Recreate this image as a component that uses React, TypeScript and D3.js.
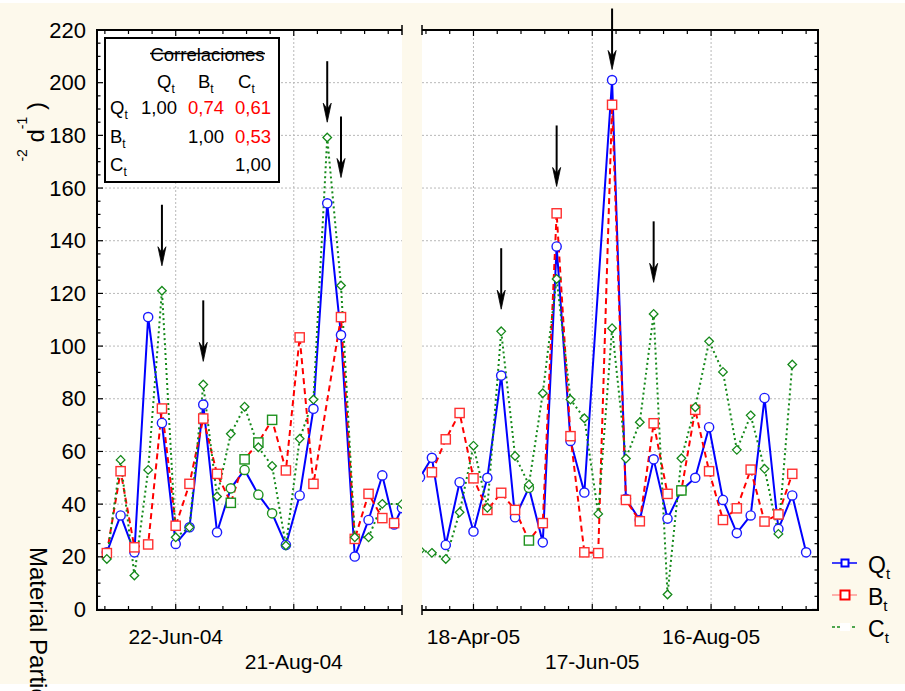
import React from "react";
import * as d3 from "d3";

// ---------------- DATA ----------------
const leftDates = [
  "2004-05-18", "2004-05-25", "2004-06-01", "2004-06-08", "2004-06-15", "2004-06-22",
  "2004-06-29", "2004-07-06", "2004-07-13", "2004-07-20", "2004-07-27", "2004-08-03",
  "2004-08-10", "2004-08-17", "2004-08-24", "2004-08-31", "2004-09-07", "2004-09-14",
  "2004-09-21", "2004-09-28", "2004-10-05", "2004-10-11", "2004-10-15",
];
const leftQ = [21.7, 35.7, 21.7, 111, 70.8, 24.9, 31.2, 77.8, 29.3, 46.0, 53.0, 43.6, 36.5, 24.5, 43.3, 76.2, 154.2, 104.2, 20.1, 34.0, 50.9, 32.3, 38.5];
const leftB = [21.4, 52.5, 23.6, 24.7, 76.3, 31.8, 47.7, 72.5, 51.5, 40.5, 57.0, 63.4, 72.0, 52.8, 103.3, 47.7, null, 111, 26.8, 43.9, 34.7, 32.8, null];
const leftC = [19.2, 56.8, 12.9, 53.0, 121, 27.4, 31.2, 85.4, 42.9, 66.7, 77.0, 61.6, 54.5, 24.3, 64.8, 79.7, 179.2, 123, 27.4, 27.4, 40.1, null, 40];

const rightDates = [
  "2005-03-22", "2005-03-28", "2005-04-04", "2005-04-11", "2005-04-18", "2005-04-25",
  "2005-05-02", "2005-05-09", "2005-05-16", "2005-05-23", "2005-05-30", "2005-06-06",
  "2005-06-13", "2005-06-20", "2005-06-27", "2005-07-04", "2005-07-11", "2005-07-18",
  "2005-07-25", "2005-08-01", "2005-08-08", "2005-08-15", "2005-08-22", "2005-08-29",
  "2005-09-05", "2005-09-12", "2005-09-19", "2005-09-26", "2005-10-03",
];
const rightQ = [50.2, 57.6, 24.5, 48.3, 29.6, 50.0, 88.8, 35.0, 46.2, 25.5, 137.8, 64, 44.4, null, 201, 42, 34, 57.0, 34.5, 45.2, 50.0, 69.2, 41.6, 29.0, 35.7, 80.3, 30.6, 43.3, 21.7];
const rightB = [null, 52.1, 64.6, 74.6, 49.8, 37.8, 44.3, 37.8, 26.2, 32.8, 150.4, 65.8, 21.7, 21.4, 191.6, 41.6, 33.5, 70.7, 43.9, 45.2, 75.8, 52.5, 34.0, 38.4, 53.1, 33.4, 36.1, 51.5, null];
const rightC = [22.5, 21.5, 19.2, 36.9, 62.2, 38.6, 105.6, 58.3, 47.4, 82.1, 125.5, 79.7, 72.6, 36.3, 106.8, 57.3, 71.1, 112.2, 5.7, 57.4, 76.8, 101.8, 90.2, 60.6, 73.7, 53.4, 28.7, 93.0, null];

// samples whose markers are shown in green
const flaggedDates = ["2004-07-20", "2004-07-27", "2004-08-03", "2004-08-10", "2005-05-16", "2005-08-01"];

// panel date ranges and labelled ticks
const leftDomain = ["2004-05-13", "2004-10-15"];
const rightDomain = ["2005-03-23", "2005-10-09"];
const leftTickDates = ["2004-06-22", "2004-08-21"];
const rightTickDates = ["2005-04-18", "2005-06-17", "2005-08-16"];

// arrows: [date, value at arrow tip]
const leftArrows: [string, number][] = [["2004-06-15", 130.5], ["2004-07-06", 94.2], ["2004-09-07", 185], ["2004-09-14", 164]];
const rightArrows: [string, number][] = [["2005-05-02", 114], ["2005-05-30", 160.6], ["2005-06-27", 205], ["2005-07-18", 124.2]];

const yTicks = [0, 20, 40, 60, 80, 100, 120, 140, 160, 180, 200, 220];

const corrNames = ["Q", "B", "C"];
const corrValues: (number | null)[][] = [
  [1.0, 0.74, 0.61],
  [null, 1.0, 0.53],
  [null, null, 1.0],
];

// ---------------- STYLE ----------------
const FONT = "'Liberation Sans', Arial, sans-serif";
const CREAM = "#fdf9ec";
const GREEN_FLAG = "#1f921f";
const seriesStyle: Record<string, { color: string; mcolor: string; dash: string | null; marker: string }> = {
  Q: { color: "#0000ff", mcolor: "#1a1aff", dash: null, marker: "circle" },
  B: { color: "#ff0000", mcolor: "#ff3030", dash: "6,4", marker: "square" },
  C: { color: "#15891a", mcolor: "#15891a", dash: "2,3", marker: "diamond" },
};

const parse = d3.utcParse("%Y-%m-%d");
const fmt = d3.utcFormat("%d-%b-%y");

function Marker({ kind, x, y, color }: { kind: string; x: number; y: number; color: string }) {
  if (kind === "circle") return <circle cx={x} cy={y} r={4.6} fill="white" stroke={color} strokeWidth={1.4} />;
  if (kind === "square") return <rect x={x - 4.6} y={y - 4.6} width={9.2} height={9.2} fill="white" stroke={color} strokeWidth={1.4} />;
  return <path d={`M${x},${y - 4.3}L${x + 4.3},${y}L${x},${y + 4.3}L${x - 4.3},${y}Z`} fill="white" stroke={color} strokeWidth={1.3} />;
}

function Arrow({ x, yTip }: { x: number; yTip: number }) {
  const len = 61;
  return (
    <g>
      <line x1={x} x2={x} y1={yTip - len} y2={yTip - 12} stroke="#000" strokeWidth={2} />
      <path d={`M${x},${yTip}L${x - 4},${yTip - 19}L${x},${yTip - 13}L${x + 4},${yTip - 19}Z`} fill="#000" stroke="#000" strokeWidth={0.8} />
    </g>
  );
}

export default function App() {
  const y = d3.scaleLinear().domain([0, 220]).range([609.5, 30]);
  const top = 30, bottom = 610;
  const flagged = new Set(flaggedDates);

  const panels = [
    { id: "L", dates: leftDates, series: { Q: leftQ, B: leftB, C: leftC }, domain: leftDomain, range: [97, 402], ticks: leftTickDates, arrows: leftArrows, side: "left" },
    { id: "R", dates: rightDates, series: { Q: rightQ, B: rightB, C: rightC }, domain: rightDomain, range: [422, 818], ticks: rightTickDates, arrows: rightArrows, side: "right" },
  ];

  const yMinor: number[] = [];
  for (let v = 0; v <= 220; v += 5) yMinor.push(v);

  return (
    <svg width={905} height={691} style={{ position: "absolute", left: 0, top: 0, display: "block" }} fontFamily={FONT}>
      <rect x={0} y={0} width={905} height={691} fill="white" />
      <rect x={0} y={3} width={905} height={681} fill={CREAM} />
      <defs>
        {panels.map((p) => (
          <clipPath id={`clip${p.id}`} key={p.id}>
            <rect x={p.range[0]} y={top} width={p.range[1] - p.range[0]} height={bottom - top} />
          </clipPath>
        ))}
      </defs>

      {panels.map((p) => {
        const x = d3.scaleUtc().domain(p.domain.map((d) => parse(d)!)).range(p.range);
        const dts = p.dates.map((d) => parse(d)!);
        const [x0, x1] = p.range;
        const majors = p.ticks.map((d) => parse(d)!);
        const minors: { t: Date; major: boolean }[] = [];
        const dom = x.domain();
        for (let k = -20; k <= 20; k++) {
          const t = d3.utcDay.offset(majors[0], k * 12);
          if (t >= dom[0] && t <= dom[1]) minors.push({ t, major: k % 5 === 0 });
        }
        const keys = ["Q", "B", "C"];
        return (
          <g key={p.id}>
            <rect x={x0} y={top} width={x1 - x0} height={bottom - top} fill="white" />
            {/* grid */}
            {yTicks.slice(1, -1).map((v) => (
              <line key={"gy" + v} x1={x0} x2={x1} y1={y(v)} y2={y(v)} stroke="#b8b8b8" strokeWidth={1} strokeDasharray="2,2" />
            ))}
            {majors.map((t, i) => (
              <line key={"gx" + i} x1={x(t)} x2={x(t)} y1={top} y2={bottom} stroke="#b8b8b8" strokeWidth={1} strokeDasharray="2,2" />
            ))}
            {/* lines */}
            <g clipPath={`url(#clip${p.id})`}>
              {keys.map((k) => {
                const vals = (p.series as any)[k] as (number | null)[];
                const pts = dts.map((d, i) => [d, vals[i]] as [Date, number | null]).filter((d) => d[1] != null) as [Date, number][];
                const line = d3.line<[Date, number]>().x((d) => x(d[0])).y((d) => y(d[1]));
                const st = seriesStyle[k];
                return (
                  <path key={k} d={line(pts) || ""} fill="none" stroke={st.color} strokeWidth={k === "Q" ? 2 : 2}
                    strokeDasharray={st.dash || undefined} />
                );
              })}
              {keys.map((k) => {
                const vals = (p.series as any)[k] as (number | null)[];
                const st = seriesStyle[k];
                return (
                  <g key={"m" + k}>
                    {dts.map((d, i) =>
                      vals[i] == null ? null : (
                        <Marker key={i} kind={st.marker} x={x(d)} y={y(vals[i] as number)}
                          color={flagged.has(p.dates[i]) && k !== "C" ? GREEN_FLAG : st.mcolor} />
                      )
                    )}
                  </g>
                );
              })}
            </g>
            {/* axes frame */}
            <line x1={x0} x2={x1} y1={bottom} y2={bottom} stroke="#000" strokeWidth={2} />
            <line x1={x0} x2={x1} y1={top} y2={top} stroke="#000" strokeWidth={2} />
            {p.side === "left" ? (
              <>
                <line x1={x0} x2={x0} y1={top - 1} y2={bottom + 1} stroke="#000" strokeWidth={2} />
                <line x1={x1} x2={x1} y1={top - 5} y2={top + 5} stroke="#000" strokeWidth={1.5} />
                <line x1={x1} x2={x1} y1={bottom - 5} y2={bottom + 5} stroke="#000" strokeWidth={1.5} />
              </>
            ) : (
              <>
                <line x1={x1} x2={x1} y1={top - 1} y2={bottom + 1} stroke="#000" strokeWidth={2} />
                <line x1={x0} x2={x0} y1={top - 5} y2={top + 5} stroke="#000" strokeWidth={1.5} />
                <line x1={x0} x2={x0} y1={bottom - 5} y2={bottom + 5} stroke="#000" strokeWidth={1.5} />
              </>
            )}
            {/* x ticks top & bottom */}
            {minors.map((m, i) => {
              const len = m.major ? 6 : 4;
              return (
                <g key={"xt" + i}>
                  <line x1={x(m.t)} x2={x(m.t)} y1={bottom} y2={bottom - len} stroke="#000" strokeWidth={1.2} />
                  <line x1={x(m.t)} x2={x(m.t)} y1={top} y2={top + len} stroke="#000" strokeWidth={1.2} />
                </g>
              );
            })}
            {/* y ticks */}
            {yMinor.map((v) => {
              const len = v % 20 === 0 ? 6 : 3.5;
              const ax = p.side === "left" ? x0 : x1;
              const dir = p.side === "left" ? 1 : -1;
              return <line key={"yt" + v} x1={ax} x2={ax + dir * len} y1={y(v)} y2={y(v)} stroke="#000" strokeWidth={1.2} />;
            })}
            {/* x labels */}
            {majors.map((t, i) => (
              <text key={"xl" + i} x={x(t)} y={i % 2 === 0 ? 644 : 669} textAnchor="middle" fontSize={21} fill="#000">
                {fmt(t)}
              </text>
            ))}
            {/* arrows */}
            {p.arrows.map(([d, v], i) => (
              <Arrow key={"a" + i} x={x(parse(d)!)} yTip={y(v)} />
            ))}
          </g>
        );
      })}

      {/* y tick labels */}
      {yTicks.map((v) => (
        <text key={"yl" + v} x={86} y={y(v) + 7.5} textAnchor="end" fontSize={22} fill="#000">{v}</text>
      ))}

      {/* y axis title fragments */}
      <text transform="translate(30,547) rotate(90)" fontSize={24} fill="#000">Material Particulado</text>
      <text transform="translate(44,102) rotate(-90)" textAnchor="end" fontSize={24} fill="#000">
        <tspan fontSize={14} dy={-17}>-2</tspan>
        <tspan dy={17}> d</tspan>
        <tspan fontSize={14} dy={-17}>-1</tspan>
        <tspan dy={17}> )</tspan>
      </text>

      {/* correlation box */}
      <g>
        <rect x={105} y={38} width={174} height={144} fill="white" stroke="#000" strokeWidth={2} />
        <text x={207.5} y={61} textAnchor="middle" fontSize={18.5} fill="#000">Correlaciones</text>
        <line x1={150} x2={265} y1={53.5} y2={53.5} stroke="#000" strokeWidth={1.3} />
        {corrNames.map((n, j) => (
          <text key={"h" + n} x={[157, 198, 238][j]} y={88} fontSize={18.5} fill="#000">
            {n}<tspan fontSize={12} dy={5}>t</tspan>
          </text>
        ))}
        {corrNames.map((n, i) => (
          <g key={"r" + n}>
            <text x={110} y={[114, 143, 171][i]} fontSize={18.5} fill="#000">
              {n}<tspan fontSize={12} dy={5}>t</tspan>
            </text>
            {corrValues[i].map((v, j) =>
              v == null ? null : (
                <text key={j} x={[177, 224, 271][j]} y={[114, 143, 171][i]} textAnchor="end" fontSize={18.5}
                  fill={i === j ? "#000" : "#ff0000"}>
                  {v.toFixed(2).replace(".", ",")}
                </text>
              )
            )}
          </g>
        ))}
      </g>

      {/* legend */}
      <g>
        {["Q", "B", "C"].map((k, i) => {
          const ly = [563, 595, 627][i];
          const st = seriesStyle[k];
          return (
            <g key={"lg" + k}>
              {k === "Q" && <line x1={832} x2={857} y1={ly} y2={ly} stroke="#0000ff" strokeWidth={1.5} />}
              {k === "Q" && <rect x={841.5} y={ly - 3.5} width={7} height={7} fill="white" stroke="#0000ff" strokeWidth={2} />}
              {k === "B" && <line x1={832} x2={857} y1={ly} y2={ly} stroke="#ff8080" strokeWidth={1.2} />}
              {k === "B" && <rect x={840.5} y={ly - 4.5} width={9} height={9} fill="white" stroke="#ff0000" strokeWidth={2} />}
              {k === "C" && <line x1={832} x2={857} y1={ly} y2={ly} stroke={st.color} strokeWidth={1.5} strokeDasharray="3,2" />}
              {k === "C" && <rect x={840} y={ly - 4} width={10} height={8} fill="white" />}
              <text x={868} y={ly + 10} fontSize={23} fill="#000">
                {k}<tspan fontSize={15} dy={6}>t</tspan>
              </text>
            </g>
          );
        })}
      </g>
    </svg>
  );
}
